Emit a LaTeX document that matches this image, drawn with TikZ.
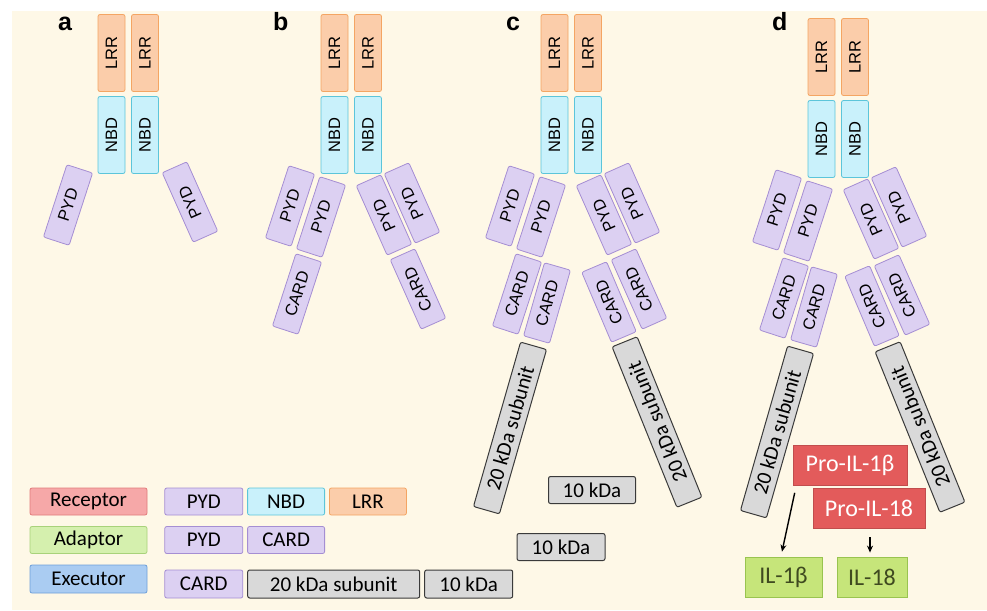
\documentclass[tikz,border=0pt]{standalone}
\usepackage{fontspec}
\usetikzlibrary{positioning,arrows.meta}
\newfontfamily\domsans{Liberation Sans}
\newfontfamily\calsans{Carlito}
\newcommand\domfont{\domsans\fontsize{16.5}{16.5}\selectfont}
\newcommand\legfont{\calsans\fontsize{21}{21}\selectfont}
\newcommand\profont{\calsans\fontsize{24}{24}\selectfont}
\newcommand\letfont{\domsans\bfseries\fontsize{25}{25}\selectfont}
\definecolor{bgcream}{HTML}{FEF8E7}
\definecolor{lrrfill}{HTML}{FBCDAA}
\definecolor{lrrline}{HTML}{F4A563}
\definecolor{nbdfill}{HTML}{C9F1FB}
\definecolor{nbdline}{HTML}{5CC5DA}
\definecolor{pydfill}{HTML}{DCD0F2}
\definecolor{pydline}{HTML}{A58ED3}
\definecolor{grayfill}{HTML}{D9D9D9}
\definecolor{grayline}{HTML}{3A3A3A}
\definecolor{recfill}{HTML}{F6A8A8}
\definecolor{recline}{HTML}{E27B7B}
\definecolor{adafill}{HTML}{D5F0AE}
\definecolor{adaline}{HTML}{A8D27A}
\definecolor{exefill}{HTML}{AACCF2}
\definecolor{exeline}{HTML}{6E9FD9}
\definecolor{profill}{HTML}{E35B5B}
\definecolor{ilfill}{HTML}{C6E57A}
\definecolor{illine}{HTML}{99C450}
\definecolor{iltext}{HTML}{3F4A20}
\tikzset{
  dombox/.style={draw, line width=0.8pt, rounded corners=2pt, inner sep=0pt,
    minimum width=76pt, minimum height=27pt, font=\domfont, text=black},
  lrrbox/.style={dombox, fill=lrrfill, draw=lrrline, rotate=90, minimum width=77pt},
  nbdbox/.style={dombox, fill=nbdfill, draw=nbdline, rotate=90, minimum width=77pt},
  pydbox/.style={dombox, fill=pydfill, draw=pydline},
  subbox/.style={dombox, fill=grayfill, draw=grayline, line width=1pt,
    minimum width=171pt, font=\legfont},
  kdabox/.style={subbox, minimum width=87pt},
  legbox/.style={draw, line width=0.8pt, rounded corners=2pt, inner sep=0pt,
    minimum height=27pt, font=\legfont, text=black},
  prolbox/.style={fill=profill, draw=profill!85!black, line width=0.6pt,
    inner sep=0pt, minimum height=40pt, font=\profont, text=white},
  ilbox/.style={fill=ilfill, draw=illine, line width=0.8pt, inner sep=0pt,
    minimum height=40pt, font=\profont, text=iltext},
  panlab/.style={font=\letfont, anchor=base west, inner sep=0pt},
  cleave/.style={-{Stealth[length=7pt,width=6pt]}, line width=1.4pt},
}
\begin{document}
\begin{tikzpicture}[x=1pt,y=-1pt]
    \useasboundingbox (0,0) rectangle (987,610);
    \fill[bgcream] (12,11) rectangle (987,610);

    % panel letters
    \node[panlab] (la) at (58,31) {a};
    \node[panlab] (lb) at (273,31) {b};
    \node[panlab] (lc) at (506,31) {c};
    \node[panlab] (ld) at (772,31) {d};

    % a: receptor alone
    \begin{scope}[shift={(98,0)}]
    \node[lrrbox] (aL1) at (13.5,53) {LRR};
    \node[lrrbox] (aL2) at (47,53) {LRR};
    \node[nbdbox] (aN1) at (13.5,135) {NBD};
    \node[nbdbox] (aN2) at (47,135) {NBD};
    \node[pydbox, rotate=72] (aP1) at (-30,205) {PYD};
    \node[pydbox, rotate=114] (aP2) at (92,202) {PYD};
    \end{scope}

    % b: receptor with adaptor
    \begin{scope}[shift={(321,0)}]
    \node[lrrbox] (bL1) at (13.5,53) {LRR};
    \node[lrrbox] (bL2) at (47,53) {LRR};
    \node[nbdbox] (bN1) at (13.5,135) {NBD};
    \node[nbdbox] (bN2) at (47,135) {NBD};
    \node[pydbox, rotate=72] (bP1) at (-31,206) {PYD};
    \node[pydbox, rotate=72] (bP2) at (0,217) {PYD};
    \node[pydbox, rotate=114] (bP3) at (63,215) {PYD};
    \node[pydbox, rotate=114] (bP4) at (91,203) {PYD};
    \node[pydbox, rotate=72] (bC1) at (-24,294) {CARD};
    \node[pydbox, rotate=114] (bC2) at (97,289) {CARD};
    \end{scope}

    % c: with executor
    \begin{scope}[shift={(541,0)}]
    \node[subbox, rotate=74] (cS1) at (-31,428) {20 kDa subunit};
    \node[subbox, rotate=112, minimum width=173pt] (cS2) at (116,422) {20 kDa subunit};
    \node[lrrbox] (cL1) at (13.5,53) {LRR};
    \node[lrrbox] (cL2) at (47,53) {LRR};
    \node[nbdbox] (cN1) at (13.5,135) {NBD};
    \node[nbdbox] (cN2) at (47,135) {NBD};
    \node[pydbox, rotate=72] (cP1) at (-31,206) {PYD};
    \node[pydbox, rotate=72] (cP2) at (0,217) {PYD};
    \node[pydbox, rotate=114] (cP3) at (63,215) {PYD};
    \node[pydbox, rotate=114] (cP4) at (91,203) {PYD};
    \node[pydbox, rotate=72] (cC1) at (-24,294) {CARD};
    \node[pydbox, rotate=74] (cC2) at (6,303) {CARD};
    \node[pydbox, rotate=113] (cC3) at (68,302) {CARD};
    \node[pydbox, rotate=114] (cC4) at (98,289) {CARD};
    \node[kdabox] (cK1) at (51,490) {10 kDa};
    \node[kdabox, minimum width=88pt] (cK2) at (20,547) {10 kDa};
    \end{scope}

    % d: cleavage of the cytokines
    \begin{scope}[shift={(808,4)}]
    \node[subbox, rotate=74] (dS1) at (-31,428) {20 kDa subunit};
    \node[subbox, rotate=112, minimum width=173pt] (dS2) at (112,423) {20 kDa subunit};
    \node[lrrbox] (dL1) at (13.5,53) {LRR};
    \node[lrrbox] (dL2) at (47,53) {LRR};
    \node[nbdbox] (dN1) at (13.5,135) {NBD};
    \node[nbdbox] (dN2) at (47,135) {NBD};
    \node[pydbox, rotate=72] (dP1) at (-31,206) {PYD};
    \node[pydbox, rotate=72] (dP2) at (0,217) {PYD};
    \node[pydbox, rotate=114] (dP3) at (63,215) {PYD};
    \node[pydbox, rotate=114] (dP4) at (91,203) {PYD};
    \node[pydbox, rotate=72] (dC1) at (-24,294) {CARD};
    \node[pydbox, rotate=74] (dC2) at (6,303) {CARD};
    \node[pydbox, rotate=113] (dC3) at (64,302) {CARD};
    \node[pydbox, rotate=114] (dC4) at (94,291) {CARD};
    \end{scope}
    \node[prolbox, minimum width=114pt] (pro1b) at (850,465.5) {Pro-IL-1β};
    \node[prolbox, minimum width=112pt] (pro18) at (869,508) {Pro-IL-18};
    \node[ilbox, minimum width=77pt] (il1b) at (783.5,577) {IL-1β};
    \node[ilbox, minimum width=70pt] (il18) at (872,577) {IL-18};
    \draw[cleave] ([xshift=2pt,yshift=-7pt]pro1b.south west) -- ([xshift=-1.5pt,yshift=5pt]il1b.north);
    \draw[cleave] ([xshift=1pt,yshift=-9pt]pro18.south) -- ([xshift=-2pt,yshift=4pt]il18.north);

    % legend
    \node[legbox, fill=recfill, draw=recline, minimum width=117pt] (lrec) at (88.5,501.5) {Receptor};
    \node[legbox, fill=pydfill, draw=pydline, minimum width=78pt, right=17pt of lrec] (lpyd1) {PYD};
    \node[legbox, fill=nbdfill, draw=nbdline, minimum width=77pt, right=4pt of lpyd1] (lnbd) {NBD};
    \node[legbox, fill=lrrfill, draw=lrrline, minimum width=77pt, right=4pt of lnbd] (llrr) {LRR};
    \node[legbox, fill=adafill, draw=adaline, minimum width=117pt] (lada) at (88.5,540) {Adaptor};
    \node[legbox, fill=pydfill, draw=pydline, minimum width=78pt, right=17pt of lada] (lpyd2) {PYD};
    \node[legbox, fill=pydfill, draw=pydline, minimum width=77pt, right=4pt of lpyd2] (lcard2) {CARD};
    \node[legbox, fill=exefill, draw=exeline, minimum width=117pt, minimum height=28pt] (lexe) at (88.5,579) {Executor};
    \node[legbox, fill=pydfill, draw=pydline, minimum width=78pt, minimum height=28pt, right=17pt of lexe, yshift=-5pt] (lcard3) {CARD};
    \node[legbox, fill=grayfill, draw=grayline, line width=1pt, minimum width=172pt, minimum height=28pt, right=4pt of lcard3] (l20) {20 kDa subunit};
    \node[legbox, fill=grayfill, draw=grayline, line width=1pt, minimum width=88pt, minimum height=28pt, right=4pt of l20] (l10) {10 kDa};
\end{tikzpicture}
\end{document}
